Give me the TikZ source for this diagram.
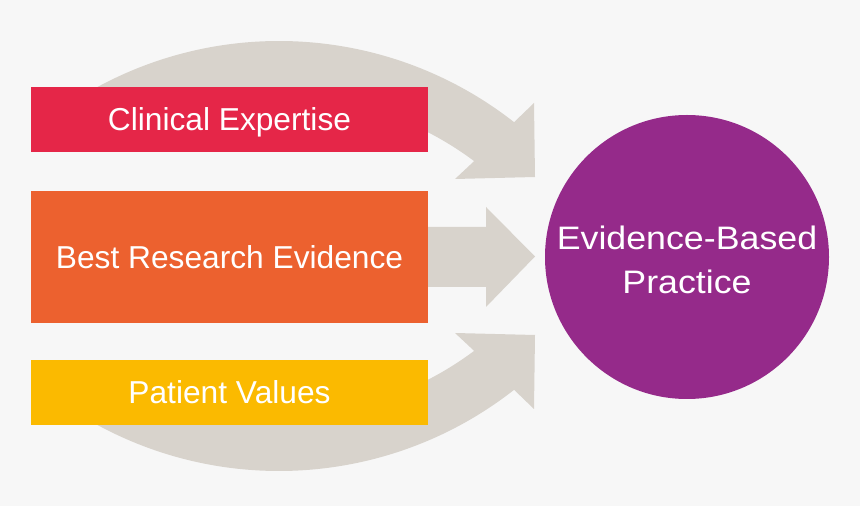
\documentclass[tikz,border=0pt]{standalone}
\usepackage{fontspec}
\setmainfont{Liberation Sans}
\newfontfamily\circfont[FakeStretch=1.1]{Liberation Sans}
\usepackage{tikz}
\usetikzlibrary{calc,positioning}

\definecolor{bgcol}{RGB}{247,247,247}
\definecolor{arrowcol}{RGB}{216,211,204}
\definecolor{ceRed}{RGB}{229,38,72}
\definecolor{breOrange}{RGB}{236,97,47}
\definecolor{pvYellow}{RGB}{251,186,0}
\definecolor{ebpPurple}{RGB}{149,42,138}

\tikzset{
	factor/.style={shape=rectangle,inner sep=0pt,minimum width=397pt,text=white,
		text height=22.7pt,text depth=0pt,font=\fontsize{31.7}{38}\selectfont},
}

\begin{document}
\begin{tikzpicture}[x=1pt,y=1pt]
	\fill[bgcol] (0,0) rectangle (860,506);

	% curved arrows, top one and its mirror below
	\foreach \s in {1,-1}{
		\begin{scope}[shift={(0,250)},yscale=\s]
			\coordinate (c) at (279,-166);
			\fill[arrowcol] ($(c)+(120:381)$) arc[start angle=120,end angle=51.9,radius=381]
				-- (534,153) -- (535,79) -- (455,77)
				-- ($(c)+(53.2:325.8)$) arc[start angle=53.2,end angle=120,radius=325.8]
				-- cycle;
		\end{scope}
	}
	% straight arrow
	\fill[arrowcol] (427,279) -- (486,279) -- (486,299) -- (535,249.5)
		-- (486,199) -- (486,219) -- (427,219) -- cycle;

	\node[factor,fill=ceRed,minimum height=65pt] (ce) at (229.5,386.5) {Clinical Expertise};
	\node[factor,fill=breOrange,minimum height=132pt] (bre) at (229.5,249) {Best Research Evidence};
	\node[factor,fill=pvYellow,minimum height=65pt] (pv) at (229.5,113.5) {Patient Values};

	\node[shape=circle,fill=ebpPurple,minimum size=284pt,inner sep=0pt] (ebp) at (687,249) {};
	\node[text=white,align=center,inner sep=0pt,font=\circfont\fontsize{32.5}{44}\selectfont]
		(ebptext) at ([yshift=-3pt]ebp.center) {Evidence-Based\\Practice};
\end{tikzpicture}
\end{document}
